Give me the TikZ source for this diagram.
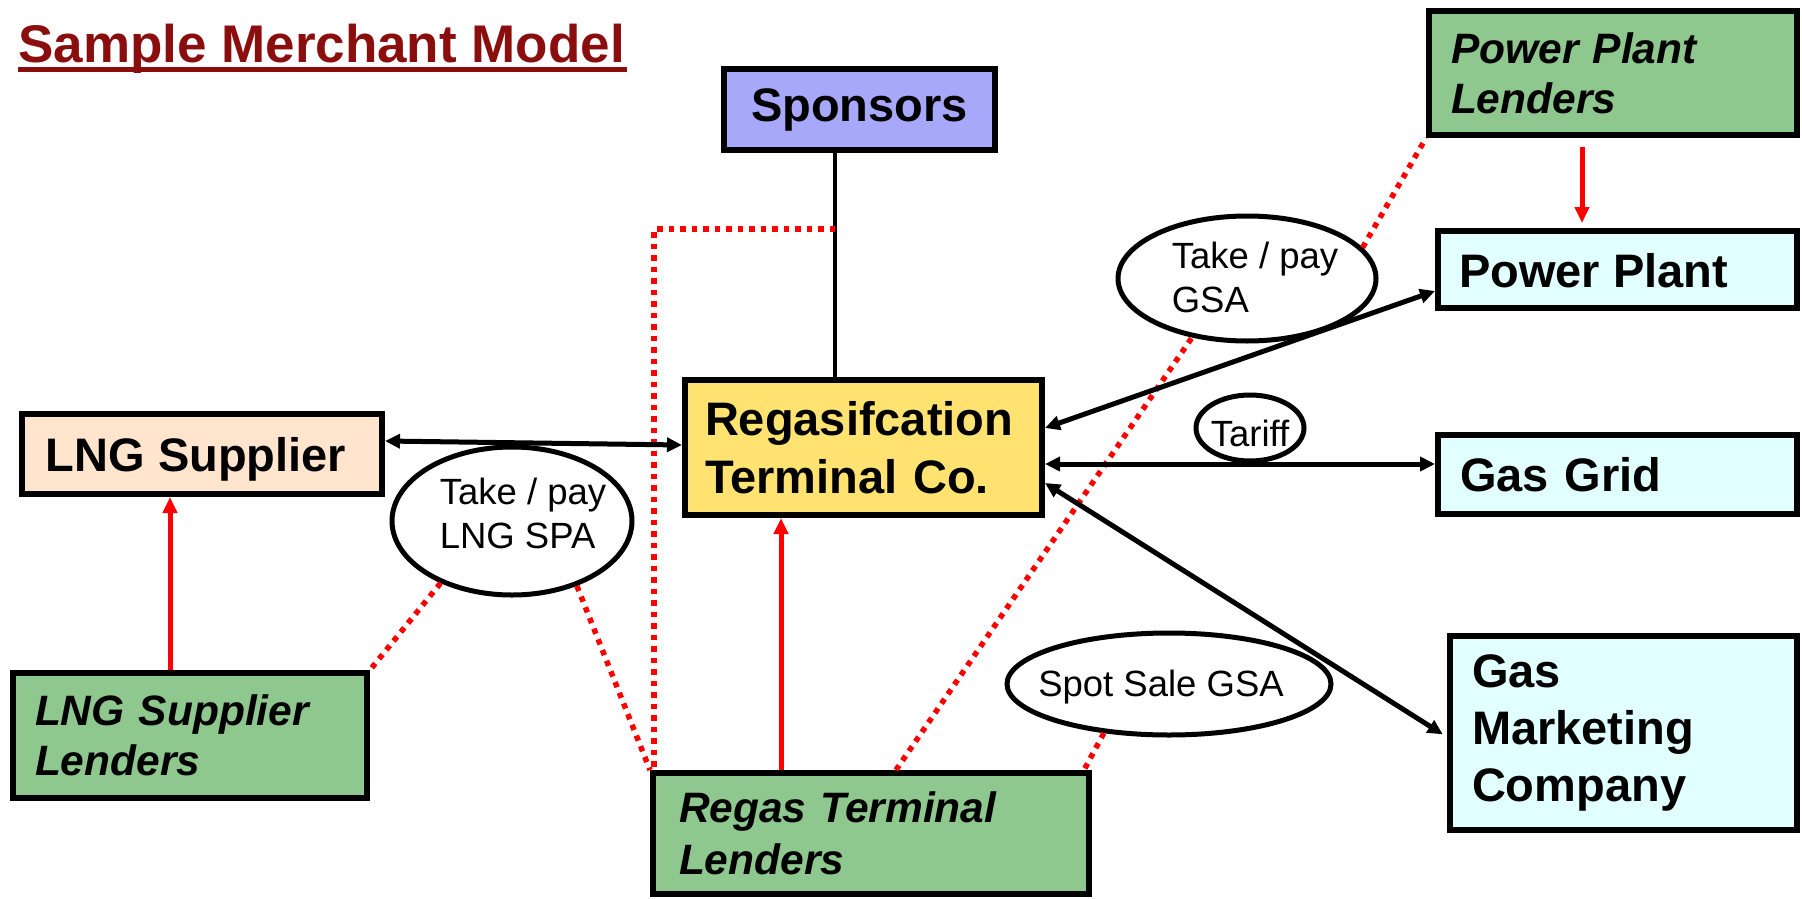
\documentclass[tikz,border=0pt]{standalone}
\usepackage{fontspec}
\setmainfont{Liberation Sans}
\usetikzlibrary{arrows.meta,shapes.geometric}

\definecolor{titlered}{RGB}{139,14,14}
\definecolor{spblue}{RGB}{168,168,250}
\definecolor{regasgold}{RGB}{255,226,112}
\definecolor{peach}{RGB}{255,229,206}
\definecolor{lendgreen}{RGB}{142,200,142}
\definecolor{palecyan}{RGB}{226,255,255}

\newcommand\bxfont{\fontsize{47}{57}\selectfont\bfseries}
\newcommand\lnfont{\fontsize{42.5}{50}\selectfont\bfseries\itshape}
\newcommand\ovfont{\fontsize{36.5}{44}\selectfont}

\begin{document}
\begin{tikzpicture}[x=1pt,y=-1pt,
  box/.style={draw=black, line width=6pt, inner sep=0pt, align=left, font=\bxfont},
  lender/.style={box, fill=lendgreen, font=\lnfont},
  oval/.style={ellipse, draw=black, line width=5pt, fill=white, inner sep=0pt},
  ovtext/.style={inner sep=0pt, align=left, font=\ovfont},
  biarrow/.style={line width=5pt, {Triangle[length=15pt,width=14pt]}-{Triangle[length=15pt,width=14pt]}},
  redarrow/.style={red, line width=5pt, -{Triangle[length=16pt,width=14pt]}},
  dotline/.style={red, line width=5.5pt, dash pattern=on 5.5pt off 6pt},
  plainline/.style={line width=4pt}]

\useasboundingbox (0,0) rectangle (1802,899);

% title
\node[inner sep=0pt, anchor=base west, text=titlered,
      font={\fontsize{53}{60}\selectfont\bfseries}] (title) at (18,63) {Sample Merchant Model};
\draw[titlered, line width=5pt] ([yshift=-7pt]title.base west) -- ([yshift=-7pt,xshift=2pt]title.base east);

% boxes
\node[box, fill=spblue, align=center, minimum width=271pt, minimum height=80pt,
      yshift=-2pt] (sp) at (859.5,107.5) {Sponsors};
\node[box, fill=regasgold, minimum width=357pt, minimum height=135pt,
      text width=317pt, font={\fontsize{47}{58}\selectfont\bfseries}] (regas) at (863.5,447.5) {Regasifcation\\Terminal Co.};
\node[box, fill=peach, minimum width=360pt, minimum height=80pt] (lng) at (202,454) {};
\node[inner sep=0pt, font=\bxfont] (lngt) at (196,459) {LNG Supplier};
\node[lender, minimum width=368pt, minimum height=124pt, text width=324pt] (ppl) at (1613,73) {Power Plant\\Lenders};
\node[box, fill=palecyan, minimum width=359pt, minimum height=77pt] (pp) at (1617.5,269.5) {};
\node[inner sep=0pt, anchor=base west, font=\bxfont] (ppt) at (1459,287) {Power Plant};
\node[box, fill=palecyan, minimum width=359pt, minimum height=79pt, text width=315pt] (grid) at (1617.5,474.5) {Gas Grid};
\node[box, fill=palecyan, minimum width=347pt, minimum height=194pt, text width=303pt,
      yshift=-3.5pt] (gmc) at (1623.5,729) {Gas\\Marketing\\Company};
\node[lender, minimum width=354pt, minimum height=125pt, text width=310pt] (lngl) at (190,735.5) {LNG Supplier\\Lenders};
\node[lender, minimum width=436pt, minimum height=121pt, text width=384pt,
      font={\fontsize{42.5}{52}\selectfont\bfseries\itshape}] (rtl) at (871,833.5) {Regas Terminal\\Lenders};

% contract ovals
\node[oval, minimum width=240pt, minimum height=148pt] (spa) at (512,521) {};
\node[ovtext] (spat) at (523,513) {Take / pay\\LNG SPA};
\node[oval, minimum width=258pt, minimum height=125pt] (gsa) at (1247,278.5) {};
\node[ovtext] (gsat) at (1255,277) {Take / pay\\GSA};
\node[oval, minimum width=108pt, minimum height=66pt] (tariff) at (1250,428) {};
\node[ovtext] (tarifft) at (1250,433) {Tariff};
\node[oval, minimum width=324pt, minimum height=102pt] (spot) at (1169,684) {};
\node[ovtext] (spott) at (1161,687) {Spot Sale GSA};

% equity line and its lender link
\coordinate (sj) at (835,229);
\draw[plainline] (sp.south -| sj) -- (regas.north -| sj);
\draw[dotline] (sj) -| (rtl.north -| 654,0);

% lender links
\draw[dotline] (spa.221) -- (lngl.north east);
\draw[dotline] (spa.315) -- (rtl.north west);
\draw[dotline] (rtl.north -| 896,0) -- (gsa.227);
\draw[dotline] (gsa.15) -- (ppl.south west);
\draw[dotline] (spot.217) -- (rtl.north -| 1084,0);

% financing arrows
\draw[redarrow] (lngl.north -| 170,0) -- (lng.south -| 170,0);
\draw[redarrow] (rtl.north -| 781,0) -- (regas.south -| 781,0);
\draw[redarrow, shorten <=9pt, shorten >=5pt] (ppl.south -| 1582,0) -- (pp.north -| 1582,0);

% commercial flows
\draw[biarrow] (lng.east |- 0,441) -- (regas.west |- 0,445);
\draw[biarrow] (regas.east |- 0,428) -- (pp.west |- 0,291);
\draw[biarrow] (regas.east |- 0,464) -- (grid.west |- 0,464);
\draw[biarrow, shorten >=5pt] (regas.east |- 0,483) -- (gmc.west |- 0,737);

\end{tikzpicture}
\end{document}
